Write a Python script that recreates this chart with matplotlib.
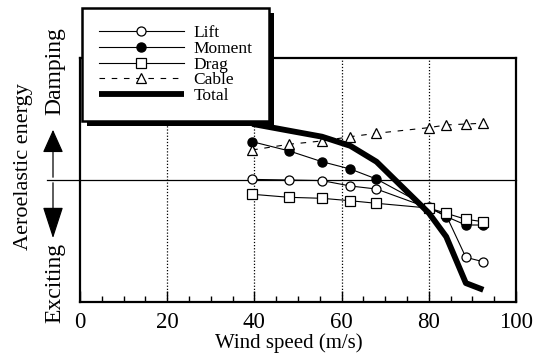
import matplotlib
matplotlib.use("Agg")
import matplotlib.pyplot as plt
from matplotlib.patches import Rectangle, FancyArrowPatch

plt.rcParams['font.family'] = ['Liberation Serif', 'DejaVu Serif']

speed = [39.5, 48, 55.5, 62, 68, 80, 84, 88.5, 92.5]
lift = [0.005, 0.0, -0.005, -0.049, -0.074, -0.23, -0.29, -0.634, -0.67]
moment = [0.314, 0.238, 0.15, 0.09, 0.008, -0.224, -0.30, -0.369, -0.369]
drag = [-0.117, -0.142, -0.15, -0.17, -0.191, -0.23, -0.273, -0.322, -0.342]
cable = [0.246, 0.293, 0.32, 0.355, 0.383, 0.429, 0.451, 0.459, 0.465]
total = [0.46, 0.404, 0.355, 0.28, 0.15, -0.27, -0.465, -0.845, -0.90]

xticks = [0, 20, 40, 60, 80, 100]

W, H = 543, 355
fig = plt.figure(figsize=(W/100, H/100), dpi=100)
ax = fig.add_axes([80/W, 1-302/H, (516-80)/W, (302-58)/H])
ax.set_xlim(0, 100)
ax.set_ylim(-1, 1)

for gx in [20, 40, 60, 80]:
    ax.axvline(gx, color='black', lw=0.9, ls=(0, (1, 1.5)), zorder=1)
ax.axhline(0, xmin=-(80-47)/436, xmax=1, color='black', lw=0.9, clip_on=False, zorder=1)

ms = 6.5
l1, = ax.plot(speed, lift, color='black', lw=0.8, marker='o', ms=ms, mfc='white', mec='black', mew=0.9, label='Lift', zorder=3)
l2, = ax.plot(speed, moment, color='black', lw=0.8, marker='o', ms=ms, mfc='black', mec='black', label='Moment', zorder=3)
l3, = ax.plot(speed, drag, color='black', lw=0.8, marker='s', ms=ms, mfc='white', mec='black', mew=0.9, label='Drag', zorder=3)
l4, = ax.plot(speed, cable, color='black', lw=0.8, ls=(0, (5, 6)), marker='^', ms=ms+0.5, mfc='white', mec='black', mew=0.9, label='Cable', zorder=3)
l5, = ax.plot(speed, total, color='black', lw=4.2, solid_capstyle='butt', label='Total', zorder=4)

ax.set_xticks(xticks)
ax.set_xticklabels([str(t) for t in xticks], fontsize=16.5)
ax.set_xticks(range(0, 101, 5), minor=True)
ax.tick_params(axis='x', which='major', direction='in', length=8, width=1, pad=7)
ax.tick_params(axis='x', which='minor', direction='in', length=4.5, width=1)
ax.set_yticks([])
for s in ax.spines.values():
    s.set_linewidth(1.6)
ax.set_xlabel('Wind speed (m/s)', fontsize=15)
ax.xaxis.set_label_coords((288.5-80)/436, -(353-302)/244, transform=ax.transAxes)
ax.xaxis.label.set_va('bottom')

leg = ax.legend(handles=[l1, l2, l3, l4, l5], loc='upper left',
                bbox_to_anchor=(82/W, 1-8/H), bbox_transform=fig.transFigure,
                fontsize=12.5, frameon=True, fancybox=False, edgecolor='black',
                framealpha=1, handlelength=4.9, handletextpad=0.55, labelspacing=-0.02,
                borderpad=0.97, borderaxespad=0)
leg.get_frame().set_linewidth(1.8)
leg.set_zorder(10)

fig.canvas.draw()
bb = leg.get_window_extent()
sh = Rectangle((bb.x0 + 5, bb.y0 - 5), bb.width, bb.height, transform=None,
               facecolor='black', edgecolor='none', zorder=9, clip_on=False)
ax.add_artist(sh)

# y-axis annotation
fig.text(24/W, 1-167/H, 'Aeroelastic energy', rotation=90, fontsize=16, ha='center', va='center')
fig.text(55/W, 1-71/H, 'Damping', rotation=90, fontsize=17, ha='center', va='center')
fig.text(55/W, 1-283/H, 'Exciting', rotation=90, fontsize=17, ha='center', va='center')
a1 = FancyArrowPatch((53, H-180), (53, H-127), transform=None,
                     arrowstyle='-|>,head_length=1.45,head_width=0.65', mutation_scale=10,
                     color='black', lw=0.9)
a2 = FancyArrowPatch((53, H-180), (53, H-241), transform=None,
                     arrowstyle='-|>,head_length=2.0,head_width=0.65', mutation_scale=10,
                     color='black', lw=0.9)
fig.patches.extend([a1, a2])

fig.savefig('out.png', dpi=100)
